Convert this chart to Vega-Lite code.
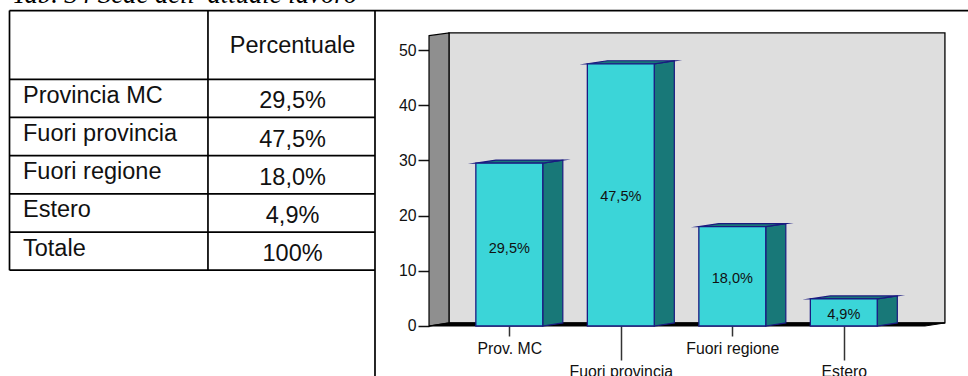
{
"$schema":"https://vega.github.io/schema/vega-lite/v6.json",
"padding":0,"autosize":{"type":"none"},"background":"white","width":968,"height":376,
"config":{"view":{"stroke":null},"text":{"font":"Liberation Sans"},"axis":{"labelFont":"Liberation Sans"}},
"datasets":{
"grid":[
{"x":0,"x2":1,"y":-1.8,"y2":-1.8},{"x":0,"x2":1,"y":0,"y2":0},{"x":0,"x2":1,"y":1,"y2":1},{"x":0,"x2":1,"y":2,"y2":2},{"x":0,"x2":1,"y":3,"y2":3},{"x":0,"x2":1,"y":4,"y2":4},{"x":0,"x2":1,"y":5,"y2":5},
{"x":0,"x2":0,"y":-1.8,"y2":5},{"x":0.543,"x2":0.543,"y":-1.8,"y2":5},{"x":1,"x2":1,"y":-1.8,"y2":7.77},{"x":1,"x2":2.6225,"y":-1.8,"y2":-1.8}],
"tableLabels":[
{"label":"Provincia MC","x":0.0369,"y":0.5},{"label":"Fuori provincia","x":0.0369,"y":1.5},{"label":"Fuori regione","x":0.0369,"y":2.5},{"label":"Estero","x":0.0369,"y":3.5},{"label":"Totale","x":0.0369,"y":4.5}],
"tablePct":[
{"pct":"29,5%","x":0.7745,"y":0.5},{"pct":"47,5%","x":0.7745,"y":1.5},{"pct":"18,0%","x":0.7745,"y":2.5},{"pct":"4,9%","x":0.7745,"y":3.5},{"pct":"100%","x":0.7745,"y":4.5}],
"walls":[{"x":-0.541,"x2":3.907,"y":53.1,"y0":0.55}],
"sideWall":[{"x":-0.72,"y":52.6,"y0":0},{"x":-0.541,"y":53.1,"y0":0.55}],
"floor":[{"x":-0.72,"y":0,"y0":0},{"x":-0.541,"y":0.55,"y0":0},{"x":3.728,"y":0.55,"y0":0},{"x":3.907,"y":0.55,"y0":0.55}],
"faces":[
{"bar":"Prov. MC","x":0.3,"y":29.5,"y0":0},{"bar":"Prov. MC","x":0.48,"y":30.05,"y0":0.55},
{"bar":"Fuori provincia","x":1.3,"y":47.5,"y0":0},{"bar":"Fuori provincia","x":1.48,"y":48.05,"y0":0.55},
{"bar":"Fuori regione","x":2.3,"y":18,"y0":0},{"bar":"Fuori regione","x":2.48,"y":18.55,"y0":0.55},
{"bar":"Estero","x":3.3,"y":4.9,"y0":0},{"bar":"Estero","x":3.48,"y":5.45,"y0":0.55}],
"tops":[
{"bar":"Prov. MC","x":-0.3,"y":29.5,"y0":29.5},{"bar":"Prov. MC","x":-0.12,"y":30.05,"y0":29.5},{"bar":"Prov. MC","x":0.3,"y":30.05,"y0":29.5},{"bar":"Prov. MC","x":0.48,"y":30.05,"y0":30.05},
{"bar":"Fuori provincia","x":0.7,"y":47.5,"y0":47.5},{"bar":"Fuori provincia","x":0.88,"y":48.05,"y0":47.5},{"bar":"Fuori provincia","x":1.3,"y":48.05,"y0":47.5},{"bar":"Fuori provincia","x":1.48,"y":48.05,"y0":48.05},
{"bar":"Fuori regione","x":1.7,"y":18,"y0":18},{"bar":"Fuori regione","x":1.88,"y":18.55,"y0":18},{"bar":"Fuori regione","x":2.3,"y":18.55,"y0":18},{"bar":"Fuori regione","x":2.48,"y":18.55,"y0":18.55},
{"bar":"Estero","x":2.7,"y":4.9,"y0":4.9},{"bar":"Estero","x":2.88,"y":5.45,"y0":4.9},{"bar":"Estero","x":3.3,"y":5.45,"y0":4.9},{"bar":"Estero","x":3.48,"y":5.45,"y0":5.45}],
"bars":[
{"bar":"Prov. MC","x":-0.3,"x2":0.3,"y":29.5,"y0":0},
{"bar":"Fuori provincia","x":0.7,"x2":1.3,"y":47.5,"y0":0},
{"bar":"Fuori regione","x":1.7,"x2":2.3,"y":18,"y0":0},
{"bar":"Estero","x":2.7,"x2":3.3,"y":4.9,"y0":0}],
"barLabels":[
{"x":0,"y":14.1,"text":"29,5%"},{"x":1,"y":23.6,"text":"47,5%"},{"x":2,"y":8.7,"text":"18,0%"},{"x":3,"y":2.15,"text":"4,9%"}]
},
"resolve":{"scale":{"x":"independent","y":"independent"},"axis":{"x":"independent","y":"independent"}},
"layer":[
{
"encoding":{
"x":{"field":"x","type":"quantitative","scale":{"domain":[-0.026,2.6225],"nice":false,"zero":false},"axis":null},
"y":{"field":"y","type":"quantitative","scale":{"domain":[-2.076,7.77],"reverse":true,"nice":false,"zero":false},"axis":null}},
"layer":[
{"data":{"name":"grid"},"mark":{"type":"rule","color":"black","strokeWidth":1.7},"encoding":{"x2":{"field":"x2"},"y2":{"field":"y2"}}},
{"data":{"name":"tableLabels"},"mark":{"type":"text","align":"left","baseline":"middle","fontSize":23.5,"color":"#111","dy":-2.5},"encoding":{"text":{"field":"label"}}},
{"data":{"name":"tablePct"},"mark":{"type":"text","align":"center","baseline":"middle","fontSize":23.5,"color":"#111","dy":3},"encoding":{"text":{"field":"pct"}}},
{"data":{"values":[{"x":0.7745,"y":-0.88,"text":"Percentuale"}]},"mark":{"type":"text","align":"center","baseline":"middle","fontSize":23.5,"color":"#111"},"encoding":{"text":{"field":"text"}}},
{"data":{"values":[{"x":0.007,"y":-2.0,"text":"Tab. 34 Sede dell’ attuale lavoro"}]},"mark":{"type":"text","align":"left","baseline":"alphabetic","font":"Liberation Serif","fontStyle":"italic","fontSize":26.7,"color":"black"},"encoding":{"text":{"field":"text"}}}
]},
{
"encoding":{
"x":{"field":"x","type":"quantitative","scale":{"domain":[-4.5677,4.1139],"nice":false,"zero":false},
"axis":{"title":null,"orient":"bottom","offset":-50,"values":[0,1,2,3],"grid":false,"domain":false,"labelFontSize":15.8,"labelColor":"#111","tickColor":"#333","tickWidth":1.5,
"tickSize":{"condition":{"test":"datum.value==0||datum.value==2","value":10},"value":34},
"labelPadding":{"condition":{"test":"datum.value==0||datum.value==2","value":5},"value":4},
"labelExpr":"['Prov. MC','Fuori provincia','Fuori regione','Estero'][datum.value]","labelOverlap":false,"labelBound":false,"labelFlush":false}},
"y":{"field":"y","type":"quantitative","scale":{"domain":[-9.058,59.058],"nice":false,"zero":false},
"axis":{"title":null,"orient":"left","offset":-429,"values":[0,10,20,30,40,50],"grid":false,"domain":false,"labelFontSize":15.8,"labelColor":"#111","tickColor":"#111","tickWidth":1.5,"tickSize":11,"labelPadding":2}}},
"layer":[
{"data":{"name":"walls"},"mark":{"type":"rect","fill":"#dedede","stroke":"black","strokeWidth":1.3},"encoding":{"x2":{"field":"x2"},"y2":{"field":"y0"}}},
{"data":{"name":"sideWall"},"mark":{"type":"area","fill":"#8f8f8f","stroke":"black","strokeWidth":1.2},"encoding":{"y2":{"field":"y0"}}},
{"data":{"name":"floor"},"mark":{"type":"area","fill":"black","stroke":"black","strokeWidth":1,"strokeJoin":"miter","strokeMiterLimit":30},"encoding":{"y2":{"field":"y0"}}},
{"data":{"name":"faces"},"mark":{"type":"area","fill":"#187878","stroke":"#1a1a80","strokeWidth":1.2},"encoding":{"y2":{"field":"y0"},"detail":{"field":"bar"}}},
{"data":{"name":"tops"},"mark":{"type":"area","fill":"#187878","stroke":"#1a1a80","strokeWidth":1.2,"strokeJoin":"miter","strokeMiterLimit":30},"encoding":{"y2":{"field":"y0"},"detail":{"field":"bar"}}},
{"data":{"name":"bars"},"mark":{"type":"rect","fill":"#3bd5d8","stroke":"#1a1a80","strokeWidth":1.3},"encoding":{"x2":{"field":"x2"},"y2":{"field":"y0"}}},
{"data":{"name":"barLabels"},"mark":{"type":"text","align":"center","baseline":"middle","fontSize":14.5,"color":"#111","dy":1},"encoding":{"text":{"field":"text"}}}
]}
]}
